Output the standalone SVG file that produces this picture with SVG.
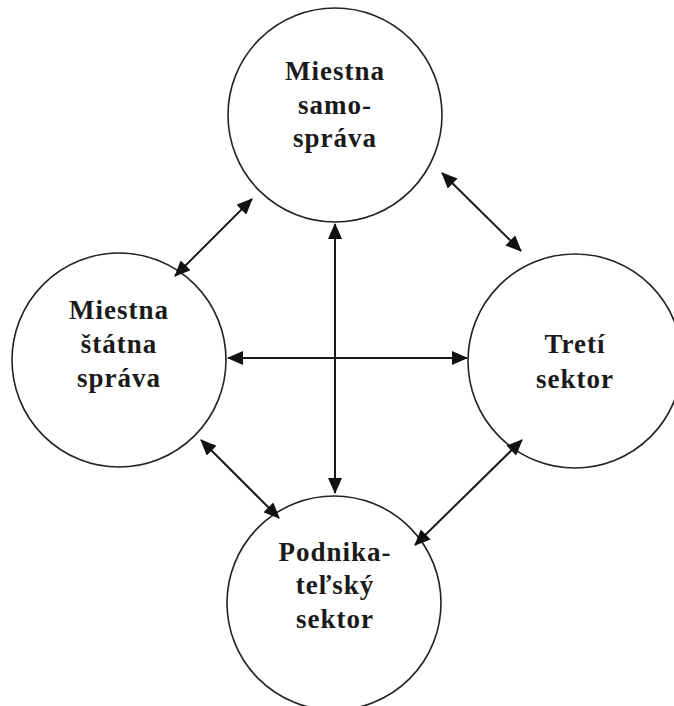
<svg xmlns="http://www.w3.org/2000/svg" width="674" height="706" viewBox="0 0 674 706">
<style>
.c{fill:#fff;stroke:#222;stroke-width:1.6}
.t{font-family:"Liberation Serif","Times New Roman",serif;font-weight:bold;font-size:27px;fill:#1a1a1a;text-anchor:middle;letter-spacing:1px}
.a{stroke:#1a1a1a;stroke-width:2;fill:none;marker-start:url(#h);marker-end:url(#h)}
</style>
<defs>
<marker id="h" viewBox="0 0 16 14" refX="15" refY="7" markerWidth="16" markerHeight="14" markerUnits="userSpaceOnUse" orient="auto-start-reverse">
<path d="M0,0 L16,7 L0,14 z" fill="#111"/>
</marker>
</defs>
<rect width="674" height="706" fill="#fff"/>
<g id="n-top"><circle class="c" cx="335" cy="115" r="107"/>
<text class="t" x="335" y="80">Miestna</text><text class="t" x="335" y="114">samo-</text><text class="t" x="335" y="147">správa</text></g>
<g id="n-left"><circle class="c" cx="119" cy="360" r="107"/>
<text class="t" x="119" y="319">Miestna</text><text class="t" x="119" y="353">štátna</text><text class="t" x="119" y="387">správa</text></g>
<g id="n-right"><circle class="c" cx="575" cy="361" r="107"/>
<text class="t" x="575" y="353">Tretí</text><text class="t" x="575" y="388">sektor</text></g>
<g id="n-bottom"><circle class="c" cx="334" cy="603" r="107"/>
<text class="t" x="335" y="561">Podnika-</text><text class="t" x="335" y="594">teľský</text><text class="t" x="335" y="628">sektor</text></g>
<g id="connectors">
<line class="a" x1="335" y1="224" x2="335" y2="493"/>
<line class="a" x1="228" y1="358" x2="467" y2="358"/>
<line class="a" x1="252" y1="199" x2="175" y2="276"/>
<line class="a" x1="442" y1="173" x2="521" y2="251"/>
<line class="a" x1="201" y1="440" x2="279" y2="518"/>
<line class="a" x1="522" y1="440" x2="415" y2="545"/>
</g>
</svg>
